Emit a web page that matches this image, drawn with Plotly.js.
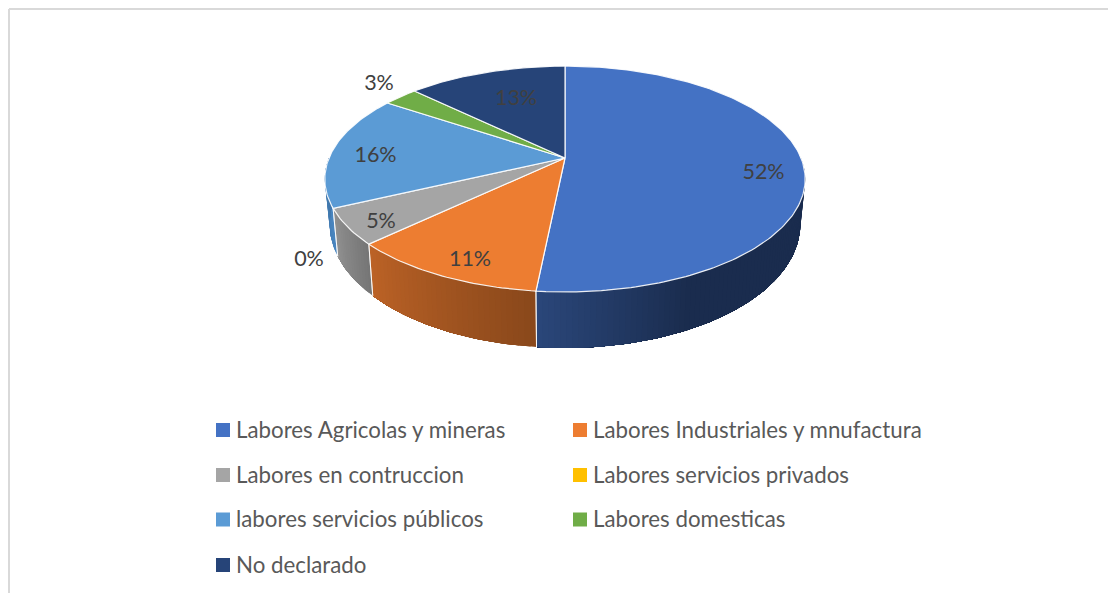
<!DOCTYPE html>
<html><head><meta charset="utf-8">
<script src="https://cdn.plot.ly/plotly-3.0.1.min.js"></script>
<style>html,body{margin:0;padding:0;background:#fff}#c{width:1108px;height:593px}</style>
</head><body><div id="c"></div>
<script>
const categories = ['Labores Agricolas y mineras','Labores Industriales y mnufactura','Labores en contruccion','Labores servicios privados','labores servicios públicos','Labores domesticas','No declarado'];
const values = [51.6,11.3,5.1,0,16.4,2.8,12.8];
const colors = ['#4472C4','#ED7D31','#A5A5A5','#FFC000','#5B9BD5','#70AD47','#264478'];
const sideStart = ['#2A4679','#BB6226','#919191','#C79600','#4A86C0','#5A8C38','#1D3560'];
const sideEnd = ['#1A2C4E','#8A481B','#767676','#9A7400','#3F73A6','#4A7530','#152748'];
const labelX = [763.5,470,381,309,375.5,379,516];
const labelY = [174,261,223,261,157,85,100];
const legendColX = [216,573];
const legendRowY = [430,475,519.5,565];

const CX=565, CY=158, RX=236, RY=109, K=-0.186;
function rimTop(frac){
  const t=2*Math.PI*frac, u=Math.sin(t), v=-Math.cos(t), d=1+K*v;
  return [CX+RX*u/d, CY+RY*v/d, v];
}
function rimBottom(frac){
  const p=rimTop(frac);
  return [CX+(p[0]-CX)*0.98, p[1]+42+14*Math.max(p[2],0), p[2]];
}
function mix(a,b,f){
  const pa=[1,3,5].map(i=>parseInt(a.substr(i,2),16)), pb=[1,3,5].map(i=>parseInt(b.substr(i,2),16));
  return 'rgb('+pa.map((c,i)=>Math.round(c+(pb[i]-c)*f)).join(',')+')';
}
const traces=[];
const total=values.reduce((a,b)=>a+b,0);
let acc=0;
const ranges=values.map(v=>{const r=[acc/total,(acc+v)/total];acc+=v;return r;});

const visA=0.25, visB=0.75;
const seams=[];
ranges.forEach((r,i)=>{
  const a=Math.max(r[0],visA), b=Math.min(r[1],visB);
  if(b<=a) return;
  const strips=Math.max(4,Math.round((b-a)*300));
  for(let s=0;s<strips;s++){
    const f0=a+(b-a)*s/strips;
    const n=Math.max(4,Math.round((b-f0)*400));
    const xs=[],ys=[];
    for(let k=0;k<=n;k++){const p=rimTop(f0+(b-f0)*k/n);xs.push(p[0]);ys.push(p[1]);}
    for(let k=n;k>=0;k--){const p=rimBottom(f0+(b-f0)*k/n);xs.push(p[0]);ys.push(p[1]);}
    const g=i===0?Math.min(1,(strips-1-s)/strips*3.1):s/Math.max(1,strips-1);
    const col=mix(sideStart[i],sideEnd[i],i===1||i===2?1-g:g);
    traces.push({x:xs,y:ys,mode:'lines',fill:'toself',fillcolor:col,line:{width:0},hoverinfo:'skip',showlegend:false});
  }
  [r[0],r[1]].forEach(fr=>{ if(fr>visA && fr<visB) seams.push(fr); });
});
seams.forEach(fr=>{
  const p=rimTop(fr),q=rimBottom(fr);
  traces.push({x:[p[0],q[0]],y:[p[1],q[1]],mode:'lines',line:{color:'rgba(255,255,255,0.8)',width:1},hoverinfo:'skip',showlegend:false});
});

ranges.forEach((r,i)=>{
  if(r[1]<=r[0]) return;
  const xs=[CX],ys=[CY];
  const n=Math.max(4,Math.round((r[1]-r[0])*360));
  for(let k=0;k<=n;k++){const p=rimTop(r[0]+(r[1]-r[0])*k/n);xs.push(p[0]);ys.push(p[1]);}
  xs.push(CX);ys.push(CY);
  traces.push({x:xs,y:ys,mode:'lines',fill:'toself',fillcolor:colors[i],line:{color:'rgba(255,255,255,0.9)',width:1.2},name:categories[i],hoverinfo:'name',showlegend:false});
});

traces.push({x:labelX,y:labelY,mode:'text',text:values.map(v=>v.toFixed(0)+'%'),textposition:'middle center',
  textfont:{family:'Lato, sans-serif',size:21.5,color:'#404040'},hoverinfo:'skip',showlegend:false});

const lx=categories.map((_,i)=>legendColX[i%2]);
const ly=categories.map((_,i)=>legendRowY[Math.floor(i/2)]);
traces.push({x:lx.map(v=>v+7),y:ly,mode:'markers',marker:{symbol:'square',size:14,color:colors,line:{width:0}},hoverinfo:'skip',showlegend:false});
traces.push({x:lx.map(v=>v+20),y:ly.map(v=>v+2),mode:'text',text:categories,textposition:'middle right',
  textfont:{family:'Lato, sans-serif',size:22.3,color:'#595959'},hoverinfo:'skip',showlegend:false});

const layout={
  width:1108,height:593,margin:{l:0,r:0,t:0,b:0},
  paper_bgcolor:'#fff',plot_bgcolor:'#fff',showlegend:false,
  xaxis:{range:[0,1108],visible:false,fixedrange:true},
  yaxis:{range:[593,0],visible:false,fixedrange:true},
  shapes:[
    {type:'line',xref:'x',yref:'y',x0:9,x1:9,y0:9,y1:593,line:{color:'#D9D9D9',width:2}},
    {type:'line',xref:'x',yref:'y',x0:9,x1:1108,y0:9,y1:9,line:{color:'#D9D9D9',width:2}}
  ]
};
Plotly.newPlot('c',traces,layout,{displayModeBar:false,staticPlot:true});
</script></body></html>
